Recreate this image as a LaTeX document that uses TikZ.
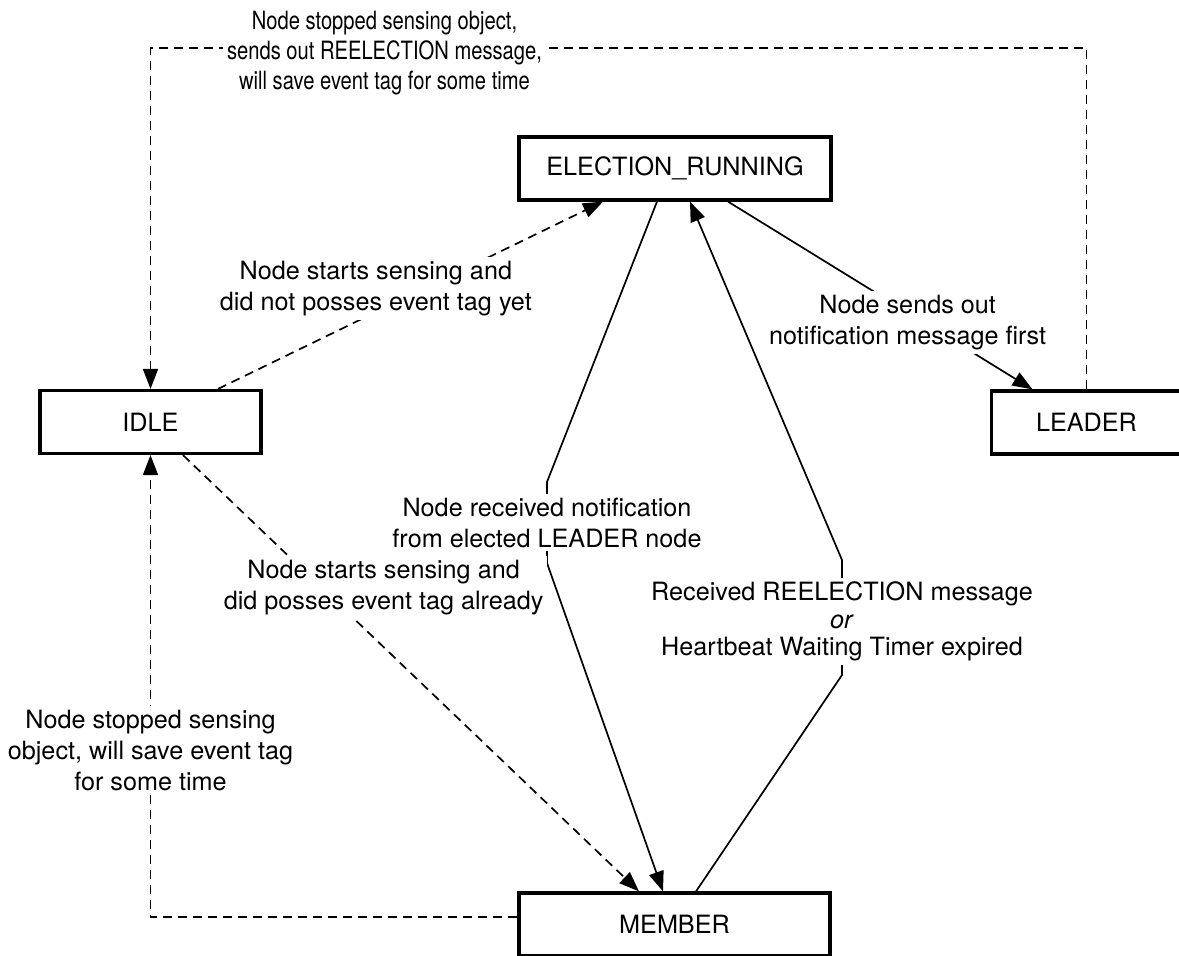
\documentclass[tikz,border=0pt]{standalone}
\usepackage{fontspec}
\setmainfont{TeX Gyre Heros}
\newfontfamily\narrowheros[FakeStretch=0.8]{TeX Gyre Heros}
\usetikzlibrary{arrows.meta}

\begin{document}
\begin{tikzpicture}[
      x=0.5pt, y=-0.5pt,
      state/.style={draw, line width=1.6pt, minimum height=31.5pt, inner sep=0pt},
      lbl/.style={fill=white, align=center, inner sep=2pt},
      trans/.style={line width=0.85pt},
      dtrans/.style={line width=0.85pt, dash pattern=on 4.5pt off 3pt},
      >={Triangle[length=10pt,width=7.5pt]},
      font=\fontsize{12.6}{15.5}\selectfont
    ]
    \useasboundingbox (0,0) rectangle (1179,955);
    \node[state, minimum width=156pt] (er) at (675,168.5) {ELECTION\_RUNNING};
    \node[state, minimum width=110.5pt] (idle) at (150.5,422) {IDLE};
    \node[state, minimum width=95pt] (leader) at (1086.5,422.5) {LEADER};
    \node[state, minimum width=155.5pt] (member) at (674.5,924.5) {MEMBER};
    \coordinate (ytop) at (0,48);

    \draw[->,dtrans] (leader.north) -- (leader.north |- ytop) -- node[lbl,pos=0.75,yshift=-2.5pt,
      font=\narrowheros\fontsize{12.6}{15.2}\selectfont]
      {Node stopped sensing object,\\sends out REELECTION message,\\will save event tag for some time}
      (idle.north |- ytop) -- (idle.north);
    \draw[->,dtrans] ([xshift=33.75pt]idle.north) -- node[lbl,pos=0.41,yshift=12pt]
      {Node starts sensing and\\did not posses event tag yet}
      ([xshift=-36pt]er.south);
    \draw[->,trans] ([xshift=26.5pt]er.south) -- node[lbl,pos=0.59,yshift=-5pt]
      {Node sends out\\notification message first}
      ([xshift=-27pt]leader.north);
    \draw[->,trans] ([xshift=-9pt]er.south) -- (547,482) -- node[lbl]
      {Node received notification\\from elected LEADER node}
      (547,563) -- ([xshift=-5.75pt]member.north);
    \draw[->,trans] ([xshift=10.75pt]member.north) -- (842,675) -- node[lbl,yshift=-2pt,
      font=\fontsize{12.6}{13.8}\selectfont]
      {Received REELECTION message\\\textit{or}\\Heartbeat Waiting Timer expired}
      (842,560) -- ([xshift=7.5pt]er.south);
    \draw[->,dtrans] ([xshift=16.25pt]idle.south) -- node[lbl,pos=0.44,yshift=30pt]
      {Node starts sensing and\\did posses event tag already}
      ([xshift=-17.75pt]member.north);
    \draw[->,dtrans] ([yshift=3.75pt]member.west) -| node[lbl,pos=0.68]
      {Node stopped sensing\\object, will save event tag\\for some time}
      (idle.south);
  \end{tikzpicture}
\end{document}
